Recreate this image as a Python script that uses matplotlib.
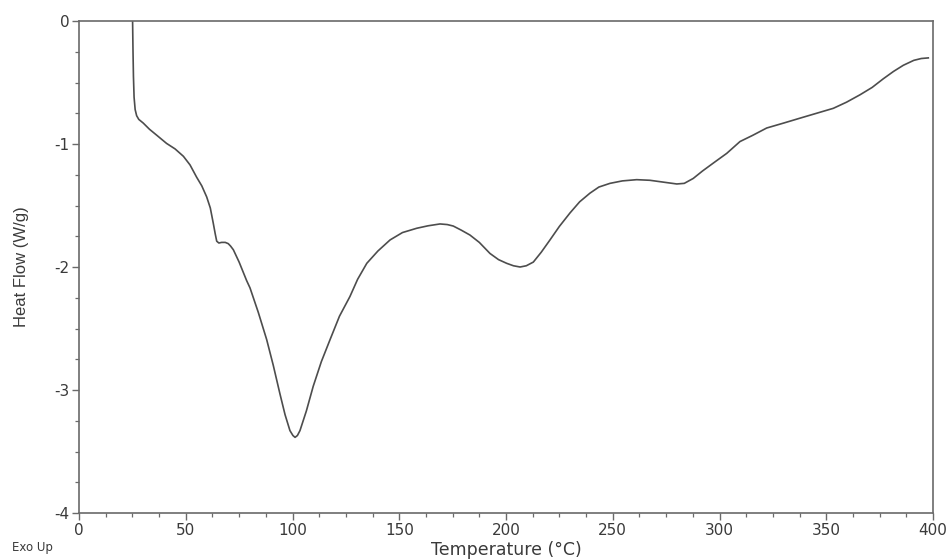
import matplotlib
matplotlib.use("Agg")
import matplotlib.pyplot as plt
from matplotlib.ticker import MultipleLocator

# Data
temperature = [24.9, 25.1, 25.3, 25.5, 25.8, 26.3, 27.0, 28.0, 30.1, 33.0, 36.5, 41.0,
               45.0, 48.9, 52.0, 55.1, 57.5, 59.8, 61.5, 62.9, 63.8, 64.5, 65.5,
               66.8, 68.5, 69.9, 71.0, 72.3, 75.0, 78.5, 80.1, 84.0, 87.9, 91.0,
               94.1, 96.5, 98.8, 100.2, 101.2, 102.3, 103.5, 106.5, 109.7, 113.5,
               117.6, 122.0, 126.9, 130.5, 134.8, 140.0, 145.7, 151.5, 158.2, 163.5,
               169.1, 172.5, 175.3, 179.0, 183.1, 187.5, 192.5, 196.5, 200.3, 203.5,
               206.6, 209.5, 212.8, 216.5, 220.6, 225.0, 230.0, 234.5, 239.3, 243.5,
               248.7, 254.5, 261.2, 267.4, 273.7, 280.0, 283.5, 287.7, 292.0, 297.5,
               303.4, 309.6, 315.5, 322.1, 330.0, 337.7, 345.5, 353.3, 359.5, 365.8,
               371.5, 376.7, 381.5, 386.1, 391.0, 394.5, 397.8]
heat_flow = [0.5, 0.0, -0.25, -0.45, -0.62, -0.72, -0.77, -0.80, -0.83, -0.88, -0.93, -0.995,
             -1.04, -1.10, -1.17, -1.27, -1.34, -1.43, -1.52, -1.645, -1.73, -1.79, -1.805,
             -1.80, -1.80, -1.81, -1.83, -1.86, -1.96, -2.11, -2.17, -2.37, -2.59, -2.80,
             -3.03, -3.20, -3.33, -3.37, -3.385, -3.37, -3.33, -3.17, -2.97, -2.77,
             -2.59, -2.40, -2.24, -2.10, -1.97, -1.87, -1.78, -1.72, -1.685, -1.665,
             -1.65, -1.655, -1.667, -1.70, -1.74, -1.80, -1.89, -1.94, -1.97, -1.99,
             -2.0, -1.99, -1.96, -1.88, -1.78, -1.67, -1.56, -1.47, -1.40, -1.35,
             -1.32, -1.30, -1.29, -1.295, -1.31, -1.325, -1.32, -1.28, -1.22, -1.15,
             -1.076, -0.98, -0.93, -0.87, -0.83, -0.79, -0.75, -0.71, -0.66, -0.60,
             -0.54, -0.47, -0.41, -0.36, -0.32, -0.305, -0.30]

x_ticks = [0, 50, 100, 150, 200, 250, 300, 350, 400]
y_ticks = [0, -1, -2, -3, -4]

plt.rcParams['font.family'] = ['DejaVu Sans']
plt.rcParams['axes.unicode_minus'] = False

text_color = '#3a3a3a'
axis_color = '#6a6a6a'

fig = plt.figure(figsize=(9.49, 5.6), dpi=100)
ax = fig.add_axes([79 / 949, 1 - 513 / 560, (933 - 79) / 949, (513 - 21) / 560])

ax.plot(temperature, heat_flow, color='#4d4d4d', linewidth=1.2, solid_joinstyle='round')

ax.set_xlim(0, 400)
ax.set_ylim(-4, 0)
ax.set_xticks(x_ticks)
ax.set_yticks(y_ticks)
ax.xaxis.set_minor_locator(MultipleLocator(12.5))
ax.yaxis.set_minor_locator(MultipleLocator(0.25))

for s in ax.spines.values():
    s.set_color(axis_color)
    s.set_linewidth(1.2)

ax.tick_params(which='both', direction='out', colors=axis_color, labelcolor=text_color,
               top=False, right=False)
ax.tick_params(which='major', length=5, width=1.0, labelsize=11, pad=2)
ax.tick_params(which='minor', length=3, width=0.9)

ax.set_xlabel('Temperature (°C)', fontsize=12.5, color=text_color)
ax.xaxis.set_label_coords(0.501, -0.056)
ax.set_ylabel('Heat Flow (W/g)', fontsize=12, color=text_color, family='Liberation Sans')
ax.yaxis.set_label_coords(-0.058, 0.5)

fig.text(12 / 949, 1 - 548 / 560, 'Exo Up', fontsize=8.5, color=text_color, va='center', ha='left')

fig.savefig('out.png', dpi=100)
